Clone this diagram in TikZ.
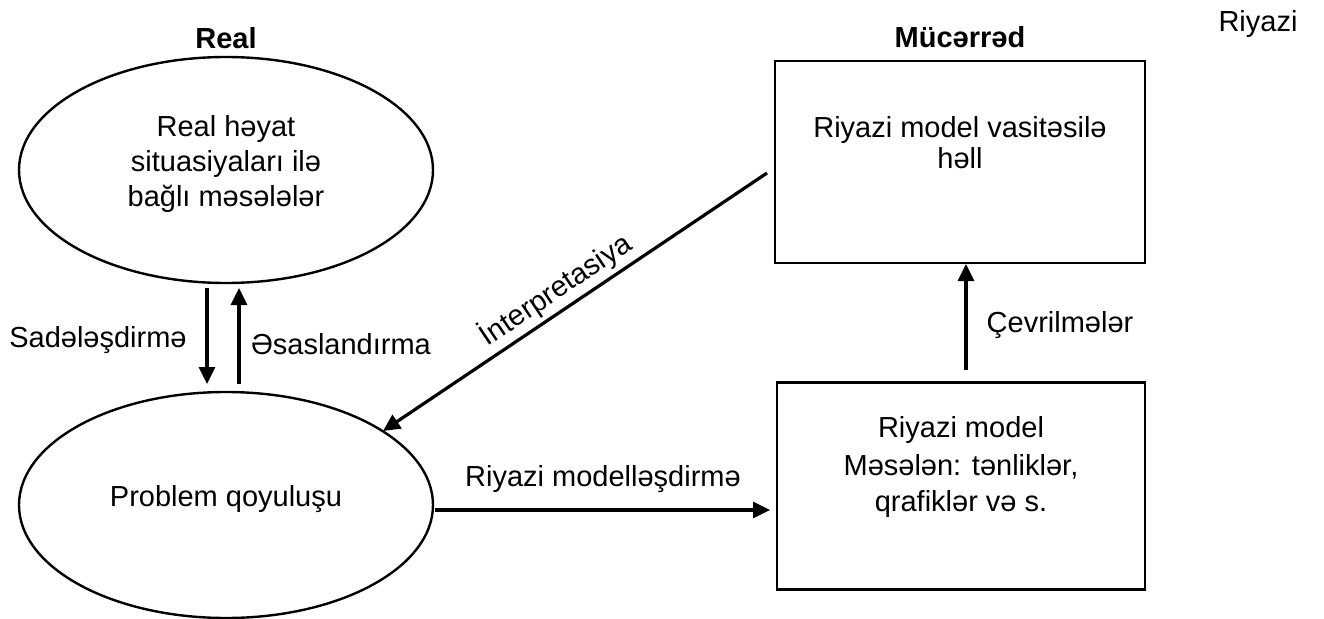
\documentclass[tikz,border=0pt]{standalone}
\usepackage{fontspec}
\setmainfont{Liberation Sans}
\usetikzlibrary{shapes.geometric,arrows.meta,calc}
\begin{document}
\begin{tikzpicture}[x=1pt,y=-1pt,
  every node/.style={font=\fontsize{29}{35}\selectfont, text=black},
  ell/.style={draw, line width=2.4pt, ellipse, inner sep=0pt, align=center},
  box/.style={draw, line width=2.4pt, rectangle, inner sep=0pt, align=center},
  arr/.style={line width=3.2pt, -{Triangle[length=17pt,width=16pt]}},
  lbl/.style={inner sep=4pt}
]
\useasboundingbox (0,0) rectangle (1324,618);
% shapes
\node[ell, minimum width=414pt, minimum height=226pt] (real) at (226,170) {};
\node[align=center] (realt) at (226,164) {Real həyat\\situasiyaları ilə\\bağlı məsələlər};
\node[ell, minimum width=414pt, minimum height=226pt] (prob) at (226,505) {};
\node (probt) at (226,499) {Problem qoyuluşu};
\node[box, minimum width=370pt, minimum height=202pt] (solve) at (960,162) {};
\node[align=center, font=\fontsize{29}{31}\selectfont] (solvet) at (960,143) {Riyazi model vasitəsilə\\həll};
\node[box, minimum width=368pt, minimum height=207pt] (model) at (961,486) {};
\node (m1) at (961,430) {Riyazi model};
\node[align=center, font=\fontsize{29}{36}\selectfont] (m2) at (961,486) {Məsələn: tənliklər,\\qrafiklər və s.};
% headings
\node[font=\fontsize{29}{35}\selectfont\bfseries] (hreal) at (226,38) {Real};
\node[font=\fontsize{29}{35}\selectfont\bfseries] (habs) at (960,37) {Mücərrəd};
\node (hriy) at (1258,24) {Riyazi};
% arrow end points
\coordinate (d1) at (207,288);
\coordinate (d2) at (207,384);
\coordinate (u1) at (239,384);
\coordinate (u2) at (239,288);
\coordinate (i1) at (767,173);
\coordinate (i2) at (383,431);
\coordinate (r1) at (435,510);
\coordinate (r2) at (770,510);
\coordinate (c1) at (966,370);
\coordinate (c2) at (966,264);
% arrows
\draw[arr] (d1) -- (d2);
\draw[arr] (u1) -- (u2);
\draw[arr] (i1) -- node[lbl, sloped, above, pos=0.52] (ilbl) {İnterpretasiya} (i2);
\draw[arr] (r1) -- (r2);
\draw[arr] (c1) -- (c2);
% labels
\node (sad) at (98,340) {Sadələşdirmə};
\node (esa) at (341,344) {Əsaslandırma};
\node (rmod) at (603,479) {Riyazi modelləşdirmə};
\node (cev) at (1060,325) {Çevrilmələr};
\end{tikzpicture}
\end{document}
